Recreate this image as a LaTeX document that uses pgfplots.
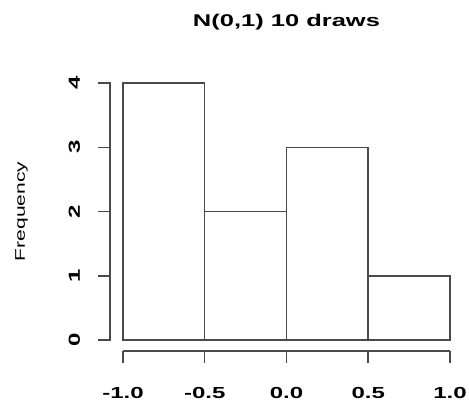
\documentclass[border=0pt]{standalone}
\usepackage{fontspec}
\setmainfont{Liberation Sans}[FakeStretch=1.5]
\usepackage{pgfplots}
\pgfplotsset{compat=1.18}
\definecolor{ink}{HTML}{4A4A4A}
\begin{document}
\begin{tikzpicture}
\useasboundingbox (-123pt,-62pt) rectangle (346pt,340pt);
\begin{axis}[
  at={(0pt,0pt)}, anchor=south west,
  scale only axis, width=327pt, height=257pt,
  xmin=-1, xmax=1, ymin=0, ymax=4,
  clip=false,
  axis x line*=bottom, axis y line*=left,
  axis x line shift=11pt,
  x axis line style={-, draw=ink, line width=1.5pt},
  y axis line style={draw=none},
  xtick={-1,-0.5,0,0.5,1},
  xticklabels={\textbf{-1.0},\textbf{-0.5},\textbf{0.0},\textbf{0.5},\textbf{1.0}},
  ytick={0,1,2,3,4},
  yticklabels={\textbf{0},\textbf{1},\textbf{2},\textbf{3},\textbf{4}},
  tick align=outside, major tick length=12pt,
  xtick style={draw=ink, line width=1.5pt},
  ytick style={draw=none},
  minor tick num=0,
  xticklabel style={font=\fontsize{16}{18}\selectfont, anchor=base, yshift=-35pt},
  yticklabel style={font=\fontsize{16}{18}\selectfont, anchor=base, rotate=90, yshift=31pt},
  title={\textbf{N(0,1) 10 draws}},
  title style={font=\fontsize{17}{20}\selectfont, at={(axis description cs:0.5,1)}, anchor=base, yshift=51pt},
  ylabel={Frequency},
  ylabel style={font=\fontsize{14}{16}\selectfont, at={(axis description cs:0,0.5)}, anchor=base, yshift=98pt},
]
\addplot[ybar interval, draw=ink, line width=1.5pt, fill=white]
  coordinates {(-1,4) (-0.5,2) (0,3) (0.5,1) (1,1)};
\draw[ink, line width=1.5pt]
  ([xshift=-25pt]axis cs:-1,4) -- ([xshift=-13pt]axis cs:-1,4)
  -- ([xshift=-13pt]axis cs:-1,0) -- ([xshift=-25pt]axis cs:-1,0);
\pgfplotsinvokeforeach{1,2,3}{
  \draw[ink, line width=1.5pt] ([xshift=-13pt]axis cs:-1,#1) -- ([xshift=-25pt]axis cs:-1,#1);
}
\end{axis}
\end{tikzpicture}
\end{document}
